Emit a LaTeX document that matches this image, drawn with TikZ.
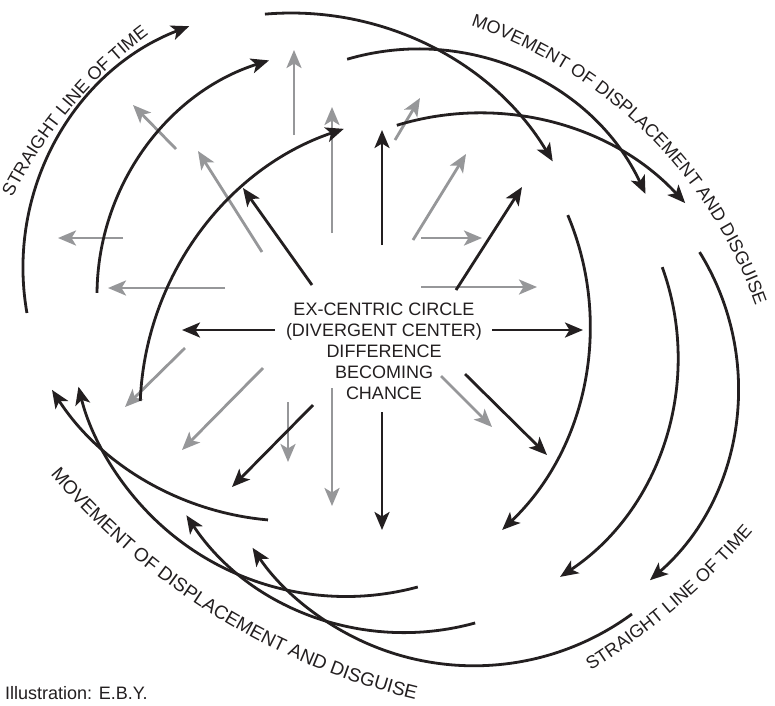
\documentclass[tikz,border=0pt]{standalone}
\usepackage{fontspec}
\setmainfont{Liberation Sans}
\usetikzlibrary{arrows.meta,decorations.text}
\definecolor{ink}{RGB}{35,31,32}
\definecolor{gry}{RGB}{150,151,153}
\newcommand\lblfont{\fontsize{18}{21}\selectfont}
\newcommand\biglblfont{\fontsize{19}{21}\selectfont}
\begin{document}
\begin{tikzpicture}[x=1pt,y=-1pt,
  blk/.style={draw=ink, line width=2.8pt, -{Stealth[length=18pt,width=15pt,inset=4.5pt]}},
  gar/.style={draw=gry, line width=2.8pt, -{Stealth[length=18pt,width=15pt,inset=4.5pt]}},
  ctext/.style={font=\lblfont, text=ink, inner sep=0pt, anchor=base},
  curvetext/.style={decorate, decoration={text along path, text align=center, text color=ink, text={|\lblfont|#1}}},
  bigcurvetext/.style={decorate, decoration={text along path, text align=center, text color=ink, text={|\biglblfont|#1}}}
]
\useasboundingbox (0,0) rectangle (775,705);
\fill[white] (0,0) rectangle (775,705);

% gray radial arrows
\draw[gar] (294,135) -- (294,50);
\draw[gar] (332,233) -- (332,107);
\draw[gar] (176,149) -- (133,105);
\draw[gar] (262,252) -- (198,151);
\draw[gar] (123,238) -- (58,238);
\draw[gar] (225,288) -- (108,288);
\draw[gar] (395,140) -- (420,98);
\draw[gar] (413,240) -- (466,154);
\draw[gar] (421,238) -- (482,238);
\draw[gar] (421,287) -- (537,287);
\draw[gar] (441,376) -- (492,427);
\draw[gar] (185,348) -- (125,407);
\draw[gar] (263,368) -- (182,450);
\draw[gar] (288,402) -- (288,462);
\draw[gar] (332,388) -- (332,506);

% black radial arrows
\draw[blk] (382,245) -- (382,130);
\draw[blk] (312,285) -- (243,188);
\draw[blk] (456,290) -- (522,187);
\draw[blk] (275,330) -- (182,330);
\draw[blk] (492,330) -- (583,330);
\draw[blk] (465,374) -- (547,455);
\draw[blk] (382,412) -- (382,530);
\draw[blk] (313,405) -- (232,487);

% upper-left arcs
\draw[blk] ([shift={(170:259)}]282,268) arc[start angle=170, end angle=249, radius=259];
\draw[blk] ([shift={(180.5:246)}]343,295) arc[start angle=180.5, end angle=252.5, radius=246];
\draw[blk] ([shift={(182.3:300)}]440,413) arc[start angle=182.3, end angle=251.3, radius=300];
% upper-right arcs
\draw[blk] ([shift={(-94.9:305)}]291,318) arc[start angle=-94.9, end angle=-30.9, radius=305];
\draw[blk] ([shift={(-106.4:251)}]418,300) arc[start angle=-106.4, end angle=-25, radius=251];
\draw[blk] ([shift={(-107:281)}]479,394) arc[start angle=-107, end angle=-42.8, radius=281];
% right arcs
\draw[blk] ([shift={(-22.85:283)}]307,325) arc[start angle=-22.85, end angle=46.4, radius=283];
\draw[blk] ([shift={(-19.9:264)}]414,357) arc[start angle=-19.9, end angle=56.4, radius=264];
\draw[blk] ([shift={(-31.8:256)}]482,387) arc[start angle=-31.8, end angle=49, radius=256];
% lower-left arcs
\draw[blk] ([shift={(95:287)}]293,234) arc[start angle=95, end angle=147.1, radius=287];
\draw[blk] ([shift={(74.9:275.5)}]346,321) arc[start angle=74.9, end angle=166.2, radius=275.5];
\draw[blk] ([shift={(74.5:262.5)}]405,370) arc[start angle=74.5, end angle=146.4, radius=262.5];
\draw[blk] ([shift={(53.7:266.8)}]474,399) arc[start angle=53.7, end angle=146.1, radius=266.8];

% central text
\node[ctext] (t1) at (384,315) {EX-CENTRIC CIRCLE};
\node[ctext] (t2) at (384,336) {(DIVERGENT CENTER)};
\node[ctext] (t3) at (384,357) {DIFFERENCE};
\node[ctext] (t4) at (384,378) {BECOMING};
\node[ctext] (t5) at (384,399) {CHANCE};

% curved labels
\path[curvetext={STRAIGHT LINE OF TIME}] ([shift={(195:471)}]432,411) arc[start angle=195, end angle=245, radius=471];
\path[curvetext={MOVEMENT OF DISPLACEMENT AND DISGUISE}] ([shift={(-80:457)}]325,459) arc[start angle=-80, end angle=-11, radius=457];
\path[bigcurvetext={MOVEMENT OF DISPLACEMENT AND DISGUISE}] ([shift={(146:691)}]578,28) arc[start angle=146, end angle=97.4, radius=691];
\path[curvetext={STRAIGHT LINE OF TIME}] ([shift={(64.4:713)}]213,66) arc[start angle=64.4, end angle=34.4, radius=713];

\node[font=\lblfont, text=ink, inner sep=0pt, anchor=base west] (credit) at (5,699) {Illustration: E.B.Y.};
\end{tikzpicture}
\end{document}
